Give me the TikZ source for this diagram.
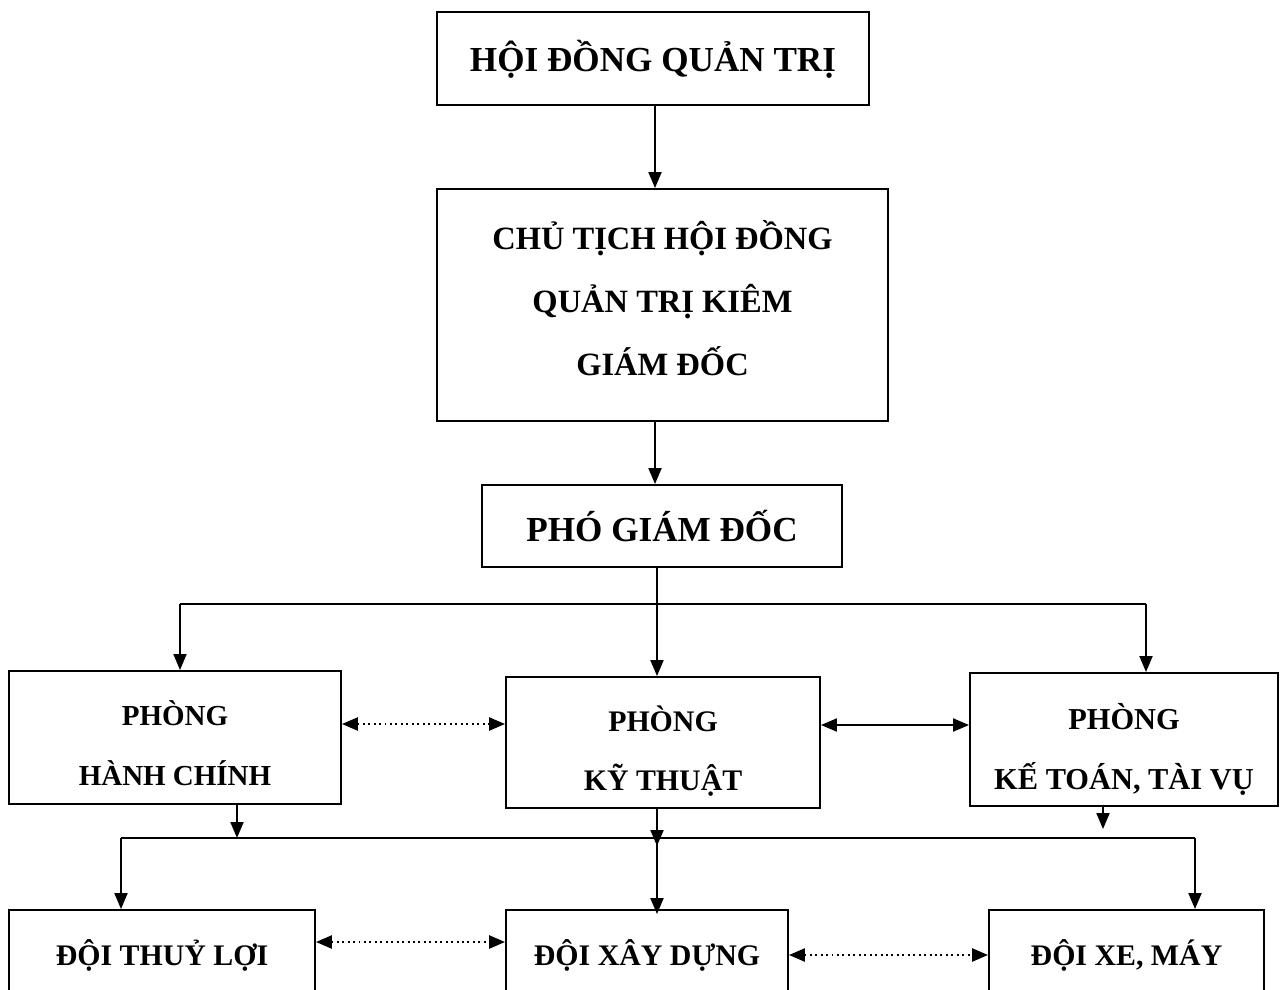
\documentclass[tikz,border=0pt]{standalone}
\usepackage{fontspec}
\setmainfont{Liberation Serif}
\usetikzlibrary{arrows.meta}
\tikzstyle{box} = [draw, rectangle, line width = 1.1pt, inner sep = 0pt]
\tikzstyle{big} = [align = center, font = \bfseries\fontsize{20}{35.7}\selectfont]
\tikzstyle{small} = [align = center, font = \bfseries\fontsize{17}{34}\selectfont]
\tikzstyle{link} = [line width = 1.1pt, -{Triangle[length = 0.32cm, width = 0.26cm]}]
\tikzstyle{both} = [line width = 1.1pt, {Triangle[length = 0.32cm, width = 0.26cm]}-{Triangle[length = 0.32cm, width = 0.26cm]}]
\tikzstyle{dots} = [both, dotted, line width = 1.4pt]

\begin{document}
\begin{tikzpicture}[x = 0.02cm, y = -0.02cm]
        \useasboundingbox (0, 0) rectangle (1284, 990);
        \clip (0, 0) rectangle (1284, 990);

        \node [box, minimum width = 8.64cm, minimum height = 1.86cm,
                label = {[big, yshift = -0.02cm] center:{HỘI ĐỒNG QUẢN TRỊ}}] (hdqt) at (653, 58.5) {};
        \node [box, minimum width = 9.02cm, minimum height = 4.64cm,
                label = {[big, font = \bfseries\fontsize{18.5}{35.7}\selectfont, yshift = 0.14cm]
                center:{CHỦ TỊCH HỘI ĐỒNG\\QUẢN TRỊ KIÊM\\GIÁM ĐỐC}}] (ct) at (662.5, 305) {};
        \node [box, minimum width = 7.2cm, minimum height = 1.64cm,
                label = {[big] center:{PHÓ GIÁM ĐỐC}}] (pgd) at (662, 526) {};

        \node [box, minimum width = 6.64cm, minimum height = 2.66cm,
                label = {[small, font = \bfseries\fontsize{16.5}{34}\selectfont, yshift = -0.11cm]
                center:{PHÒNG\\HÀNH CHÍNH}}] (hc) at (175, 737.5) {};
        \node [box, minimum width = 6.28cm, minimum height = 2.62cm,
                label = {[small, yshift = -0.17cm] center:{PHÒNG\\KỸ THUẬT}}] (kt) at (663, 742.5) {};
        \node [box, minimum width = 6.16cm, minimum height = 2.66cm,
                label = {[small, font = \bfseries\fontsize{17.3}{34}\selectfont, yshift = -0.2cm]
                center:{PHÒNG\\KẾ TOÁN, TÀI VỤ}}] (kttv) at (1124, 739.5) {};

        \node [box, minimum width = 6.12cm, minimum height = 1.8cm,
                label = {[small] center:{ĐỘI THUỶ LỢI}}] (dtl) at (162, 955) {};
        \node [box, minimum width = 5.64cm, minimum height = 1.8cm,
                label = {[small] center:{ĐỘI XÂY DỰNG}}] (dxd) at (647, 955) {};
        \node [box, minimum width = 5.5cm, minimum height = 1.8cm,
                label = {[small] center:{ĐỘI XE, MÁY}}] (dxm) at (1126.5, 955) {};

        \coordinate (top) at (655, 0);
        \draw [link] (hdqt.south -| top) -- (ct.north -| top);
        \draw [link] (ct.south -| top) -- (pgd.north -| top);

        \coordinate (bus) at (657, 604);
        \coordinate (busl) at (180, 604);
        \coordinate (busr) at (1146, 604);
        \draw [line width = 1.1pt] (pgd.south -| bus) -- (bus);
        \draw [line width = 1.1pt] (busl) -- (busr);
        \draw [link] (busl) -- (hc.north -| busl);
        \draw [link] (bus) -- (kt.north -| bus);
        \draw [link] (busr) -- (kttv.north -| busr);

        \coordinate (rail) at (657, 838);
        \coordinate (raill) at (121, 838);
        \coordinate (railr) at (1195, 838);
        \draw [line width = 1.1pt] (raill) -- (railr);
        \draw [link] (hc.south -| 237, 0) -- (237, 838);
        \draw [link] (kt.south -| rail) -- (657, 846);
        \draw [link] (kttv.south -| 1103, 0) -- (1103, 829);
        \draw [link] (raill) -- (dtl.north -| raill);
        \draw [link] (rail) -- ([yshift = -0.1cm] dxd.north -| rail);
        \draw [link] (railr) -- (dxm.north -| railr);

        \draw [dots] (hc.east |- 0, 724) -- (kt.west |- 0, 724);
        \draw [both] (kt.east |- 0, 725) -- (kttv.west |- 0, 725);
        \draw [dots] (dtl.east |- 0, 942) -- (dxd.west |- 0, 942);
        \draw [dots] (dxd.east |- 0, 955) -- (dxm.west |- 0, 955);
    \end{tikzpicture}
\end{document}
